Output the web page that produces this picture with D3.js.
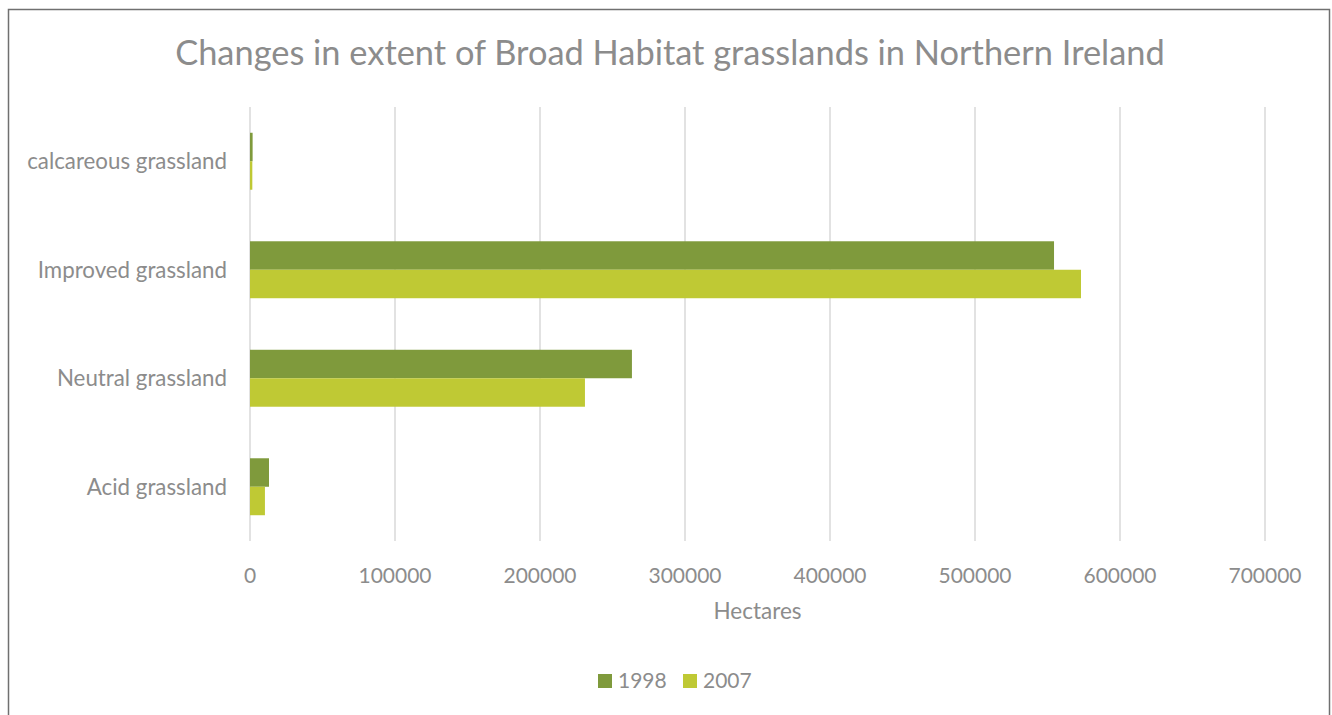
<!DOCTYPE html>
<html>
<head>
<meta charset="utf-8">
<script src="https://cdnjs.cloudflare.com/ajax/libs/d3/7.8.5/d3.min.js"></script>
<style>
    body { margin: 0; background: #fff; }
    svg { display: block; font-family: Lato, "Open Sans", sans-serif; }
</style>
</head>
<body>
<svg></svg>
<script>
// categories bottom -> top, as in the source sheet
const categories = ["Acid grassland", "Neutral grassland", "Improved grassland", "calcareous grassland"];
const series = ["1998", "2007"];
const values1998 = [13100, 263400, 554500, 1800];
const values2007 = [10300, 231000, 573100, 1600];
const ticks = [0, 100000, 200000, 300000, 400000, 500000, 600000, 700000];

const colours = { "1998": "#7f9a3c", "2007": "#bfc934" };
const textColour = "#8c8c8c";

const W = 1332, H = 715;
const margin = { top: 107, right: 67, bottom: 174, left: 250 };
const width = W - margin.left - margin.right;
const height = H - margin.top - margin.bottom;

const svg = d3.select("svg").attr("width", W).attr("height", H);

// outer frame
svg.append("rect")
    .attr("x", 8.5).attr("y", 9.5)
    .attr("width", 1321).attr("height", 720)
    .attr("fill", "none")
    .attr("stroke", "#707070")
    .attr("stroke-width", 1.5);

svg.append("text")
    .attr("x", 670).attr("y", 65)
    .attr("text-anchor", "middle")
    .attr("fill", textColour)
    .style("font-size", "34.4px")
    .text("Changes in extent of Broad Habitat grasslands in Northern Ireland");

const g = svg.append("g")
    .attr("transform", "translate(" + margin.left + "," + margin.top + ")");

const x = d3.scaleLinear().domain([0, 700000]).range([0, width]);

// top to bottom in the picture: reverse category order
const y = d3.scaleBand()
    .domain(categories.slice().reverse())
    .range([0, height])
    .paddingInner(0.475)
    .paddingOuter(0.2375);

const ySub = d3.scaleBand().domain(series).range([0, y.bandwidth()]);

// gridlines
g.selectAll("line.grid")
    .data(ticks)
    .join("line")
    .attr("class", "grid")
    .attr("x1", d => x(d)).attr("x2", d => x(d))
    .attr("y1", 0).attr("y2", height)
    .attr("stroke", "#d9d9d9")
    .attr("stroke-width", 1.5);

const rows = categories.map((c, i) => ({ cat: c, vals: { "1998": values1998[i], "2007": values2007[i] } }));

const groups = g.selectAll("g.cat")
    .data(rows)
    .join("g")
    .attr("class", "cat")
    .attr("transform", d => "translate(0," + y(d.cat) + ")");

groups.selectAll("rect")
    .data(d => series.map(s => ({ s: s, v: d.vals[s] })))
    .join("rect")
    .attr("x", x(0))
    .attr("y", d => ySub(d.s))
    .attr("width", d => x(d.v) - x(0))
    .attr("height", ySub.bandwidth())
    .attr("fill", d => colours[d.s]);

// category labels
g.selectAll("text.cat")
    .data(categories)
    .join("text")
    .attr("class", "cat")
    .attr("x", -23)
    .attr("y", d => y(d) + y.bandwidth() / 2)
    .attr("dy", "0.35em")
    .attr("text-anchor", "end")
    .attr("fill", textColour)
    .style("font-size", "22.3px")
    .text(d => d);

// x tick labels
g.selectAll("text.tick")
    .data(ticks)
    .join("text")
    .attr("class", "tick")
    .attr("x", d => x(d))
    .attr("y", height + 42)
    .attr("text-anchor", "middle")
    .attr("fill", textColour)
    .style("font-size", "21px")
    .text(d => d);

svg.append("text")
    .attr("x", margin.left + width / 2)
    .attr("y", 619)
    .attr("text-anchor", "middle")
    .attr("fill", textColour)
    .style("font-size", "22.5px")
    .text("Hectares");

// legend
const legend = svg.append("g").attr("transform", "translate(598,674)");
const legendItems = legend.selectAll("g")
    .data(series)
    .join("g")
    .attr("transform", (d, i) => "translate(" + (i * 85) + ",0)");
legendItems.append("rect")
    .attr("width", 14).attr("height", 14)
    .attr("fill", d => colours[d]);
legendItems.append("text")
    .attr("x", 20).attr("y", 7)
    .attr("dy", "0.35em")
    .attr("fill", textColour)
    .style("font-size", "21px")
    .text(d => d);
</script>
</body>
</html>
